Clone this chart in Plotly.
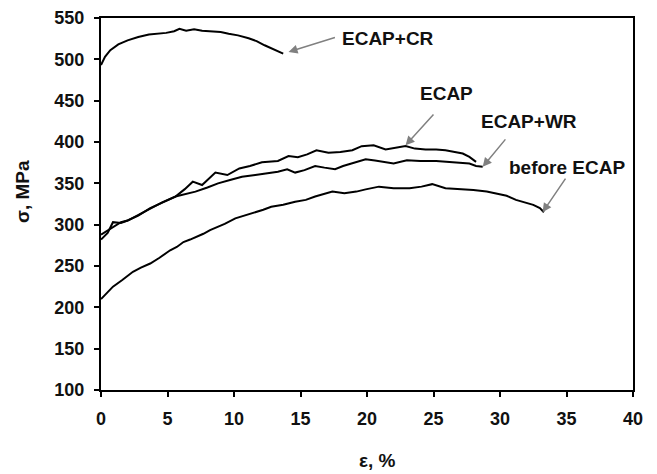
import plotly.graph_objects as go

# strain (%) and stress (MPa)
cr_x = [0, 0.3, 0.7, 1.3, 2.0, 2.8, 3.6, 4.9, 5.5, 5.9, 6.4, 7.0, 7.6, 8.3, 9.0, 9.6, 10.3, 11.1, 11.7, 12.3, 13.0, 13.7]
cr_y = [493, 503, 511, 518, 523, 527, 530, 532, 534, 537, 534.5, 536.5, 534.5, 533.5, 533, 531, 529, 525.5, 522, 517, 512, 507]

ecap_x = [0, 0.5, 1.0, 1.5, 2.0, 2.8, 3.7, 4.6, 5.6, 6.3, 6.9, 7.6, 8.1, 8.6, 9.5, 10.4, 11.2, 12.1, 13.3, 14.1, 14.8,
          15.5, 16.2, 17.1, 18.0, 18.9, 19.6, 20.5, 21.4, 22.2, 22.9, 23.6, 24.4, 25.2, 25.9, 26.6, 27.2, 27.7, 28.2]
ecap_y = [288, 293, 299, 303, 305, 311, 320, 327, 334, 343, 352, 348, 356, 363, 360, 368, 371, 375.5, 377, 383, 381.5,
          385, 390, 387, 388, 390, 395, 396, 391, 393, 395, 392, 391, 391, 390, 388, 386, 382, 376]

wr_x = [0, 0.5, 0.9, 1.5, 2.0, 2.8, 3.7, 4.6, 5.6, 6.4, 7.1, 8.0, 8.8, 9.7, 10.6, 11.6, 12.6, 13.3, 14.0, 14.6, 15.3,
        16.1, 16.8, 17.6, 18.2, 18.9, 19.9, 20.6, 21.3, 22.0, 23.0, 24.0, 25.2, 26.2, 26.9, 27.7, 28.2, 28.7]
wr_y = [282, 290, 303, 302, 305, 312, 320, 327, 334, 337, 340, 345, 350, 354, 358, 360, 362, 364, 367, 363, 366,
        371, 369, 367, 371, 374, 379, 377.5, 376, 374, 378, 377, 377, 376, 375, 374, 371, 370]

before_x = [0, 0.5, 0.9, 1.6, 2.4, 3.0, 3.7, 4.4, 5.2, 5.7, 6.2, 6.7, 7.2, 7.7, 8.2, 8.6, 9.3, 10.1, 10.8, 11.6, 12.2,
            12.8, 13.7, 14.6, 15.4, 16.1, 16.8, 17.4, 18.3, 19.2, 19.9, 20.9, 22.0, 23.2, 24.1, 24.9, 25.9, 27.0,
            28.0, 29.0, 29.7, 30.5, 31.2, 31.9, 32.5, 33.0, 33.3]
before_y = [210, 218, 225, 233, 243, 248, 253, 260, 269, 273, 279, 282, 285.5, 289, 293.5, 296, 301, 307.6, 311,
            315.7, 318, 321.7, 324, 327.8, 330, 334, 337, 340, 338, 340, 342.7, 346, 344, 344, 346, 349, 344, 343,
            342, 340, 338, 335, 330, 327, 324, 320, 315]

x_ticks = [0, 5, 10, 15, 20, 25, 30, 35, 40]
y_ticks = [100, 150, 200, 250, 300, 350, 400, 450, 500, 550]

# curve labels: text, label centre (x, y), arrow tail (x, y), arrow tip (x, y)
label_text = ["ECAP+CR", "ECAP", "ECAP+WR", "before ECAP"]
label_pos = [(21.6, 525.8), (26.0, 459), (32.2, 425), (35.0, 369.5)]
arrow_tail = [(17.7, 527), (25.1, 435), (30.5, 405), (35.0, 357.6)]
arrow_tip = [(14.1, 509), (22.9, 396), (28.7, 370), (33.2, 315)]

FONT = "Liberation Sans"

fig = go.Figure()
for xs, ys in [(cr_x, cr_y), (ecap_x, ecap_y), (wr_x, wr_y), (before_x, before_y)]:
    fig.add_trace(go.Scatter(x=xs, y=ys, mode="lines", line=dict(color="black", width=2), showlegend=False))

annotations = []
for text, (tx, ty) in zip(label_text, label_pos):
    annotations.append(dict(x=tx, y=ty, xref="x", yref="y", text=f"<b>{text}</b>", showarrow=False,
                            font=dict(family=FONT, size=19, color="#111")))
for (axx, ayy), (px, py) in zip(arrow_tail, arrow_tip):
    annotations.append(dict(x=px, y=py, xref="x", yref="y", ax=axx, ay=ayy, axref="x", ayref="y",
                            text="", showarrow=True, arrowhead=2, arrowsize=1.2, arrowwidth=1.5,
                            arrowcolor="#808080"))

annotations.append(dict(x=0, y=0.532, xref="paper", yref="paper", xshift=-79, xanchor="center", yanchor="middle",
                        text="<b>σ, MPa</b>", textangle=-90, showarrow=False,
                        font=dict(family=FONT, size=19, color="#111")))
annotations.append(dict(x=0.519, y=0, xref="paper", yref="paper", yshift=-70, xanchor="center", yanchor="middle",
                        text="<b>ε, %</b>", showarrow=False, font=dict(family=FONT, size=19, color="#111")))

fig.update_layout(
    width=649, height=466,
    margin=dict(l=93, r=24, t=10, b=84, autoexpand=False),
    paper_bgcolor="white", plot_bgcolor="white",
    annotations=annotations,
    font=dict(family=FONT, color="#111"),
)
fig.update_xaxes(range=[0, 40], tickvals=x_ticks, ticktext=[f"<b>{v}</b>" for v in x_ticks], automargin=False,
                 showgrid=False, zeroline=False, showline=True, linecolor="black", linewidth=2, mirror=True,
                 ticks="outside", ticklen=5, tickwidth=2, tickcolor="black", ticklabelstandoff=6,
                 tickfont=dict(family=FONT, size=18, color="#111"))
fig.update_yaxes(range=[100, 550], tickvals=y_ticks, ticktext=[f"<b>{v}</b>" for v in y_ticks], automargin=False,
                 showgrid=False, zeroline=False, showline=True, linecolor="black", linewidth=2, mirror=True,
                 ticks="outside", ticklen=5, tickwidth=2, tickcolor="black", ticklabelstandoff=6,
                 tickfont=dict(family=FONT, size=18, color="#111"))

fig.write_html("out.html")
